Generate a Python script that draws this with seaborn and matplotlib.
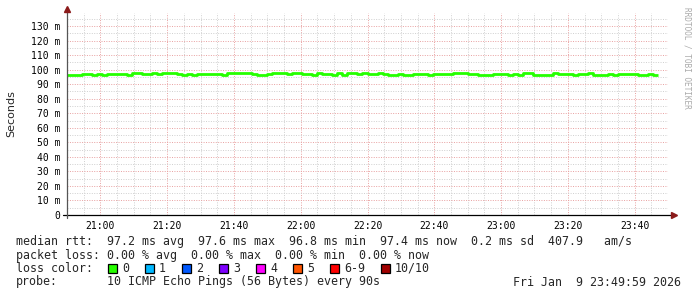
import numpy as np
import pandas as pd
import matplotlib
matplotlib.use("Agg")
import matplotlib.pyplot as plt
import matplotlib.dates as mdates
from matplotlib.patches import Rectangle
from matplotlib.lines import Line2D
import seaborn as sns

# ---------------- data ----------------
L, N, U = 96.6, 97.2, 97.8
rtt_ms = [
    L, L, L, N, N, L, N, L, N, N, N, N, L, 97.5, U, N, N, U, N, U,
    U, U, N, L, N, L, N, N, N, N, N, L, U, U, U, U, U, N, L, L,
    N, U, U, U, N, U, U, N, N, L, U, N, N, L, U, L, U, U, N, U,
    N, N, U, N, L, L, N, L, L, N, N, N, L, N, N, N, N, U, U, U,
    N, N, L, L, L, N, N, N, L, N, L, U, U, L, L, L, L, U, N, N,
    N, L, N, N, U, L, L, L, N, L, N, N, N, N, L, L, N, L,
]
start_time = "2026-01-09 20:50:00"
step = "90s"
y_ticks = [0, 10, 20, 30, 40, 50, 60, 70, 80, 90, 100, 110, 120, 130]
x_tick_labels = ["21:00", "21:20", "21:40", "22:00", "22:20", "22:40", "23:00", "23:20", "23:40"]

stats_line = "median rtt:  97.2 ms avg  97.6 ms max  96.8 ms min  97.4 ms now  0.2 ms sd  407.9   am/s"
loss_line = "packet loss: 0.00 % avg  0.00 % max  0.00 % min  0.00 % now"
loss_labels = ["0", "1", "2", "3", "4", "5", "6-9", "10/10"]
loss_colors = ["#26ff00", "#00b8ff", "#0059ff", "#7e00ff", "#ff00ff", "#ff5500", "#ff0000", "#a10000"]
probe_text = "10 ICMP Echo Pings (56 Bytes) every 90s"
date_text = "Fri Jan  9 23:49:59 2026"

# ---------------- figure ----------------
sns.set_style("white")
plt.rcParams["font.family"] = ["DejaVu Sans Mono", "DejaVu Sans"]

W, H = 697, 297
fig = plt.figure(figsize=(W / 100, H / 100), dpi=100)
fig.patch.set_facecolor("white")

def fx(px):
    return px / W

def fy(py):
    return 1 - py / H

ax_l, ax_r, ax_t, ax_b = 67, 668, 13, 215
ax = fig.add_axes([fx(ax_l), fy(ax_b), fx(ax_r - ax_l), (ax_b - ax_t) / H])
ax.set_facecolor("white")

times = pd.date_range(start_time, periods=len(rtt_ms) + 1, freq=step)
vals = list(rtt_ms) + [rtt_ms[-1]]
df = pd.DataFrame({"time": times, "rtt": vals})

sns.lineplot(data=df, x="time", y="rtt", ax=ax, color=loss_colors[0],
             linewidth=2.0, drawstyle="steps-post", zorder=5)
for ln in ax.lines:
    ln.set_solid_capstyle("butt")

t0 = pd.Timestamp(start_time)
ax.set_xlim(t0, t0 + pd.Timedelta(minutes=180))
ax.set_ylim(0, 139)

# grids
ax.set_xticks([t0 + pd.Timedelta(minutes=10 + 20 * i) for i in range(len(x_tick_labels))])
ax.set_xticklabels(x_tick_labels)
ax.set_yticks(y_ticks)
ax.set_yticklabels([("%d m" % v) if v else "0" for v in y_ticks])
ax.set_yticks(np.arange(5, 139, 10), minor=True)
ax.set_xticks([t0 + pd.Timedelta(minutes=5 * i) for i in range(1, 36)], minor=True)

ax.grid(which="minor", color="#cfcfcf", linestyle=(0, (1, 1.5)), linewidth=0.7)
ax.grid(which="major", color="#e8a0a0", linestyle=(0, (1, 1.5)), linewidth=0.7)
ax.set_axisbelow(True)
ax.tick_params(which="both", length=0)
ax.tick_params(axis="y", pad=5, labelsize=7, labelcolor="#000000")
ax.tick_params(axis="x", pad=4, labelsize=7, labelcolor="#000000")
ax.set_xlabel("")
ax.set_ylabel("")
for s in ax.spines.values():
    s.set_visible(False)

# axis lines and arrows
fig.add_artist(Line2D([fx(63), fx(671)], [fy(215), fy(215)], color="black", linewidth=0.9))
fig.add_artist(Line2D([fx(67), fx(67)], [fy(218), fy(11)], color="#555555", linewidth=0.9))
fig.add_artist(Line2D([fx(674)], [fy(215)], marker=">", markersize=4, color="#8b1a1a", linestyle="none"))
fig.add_artist(Line2D([fx(67)], [fy(9)], marker="^", markersize=4, color="#8b1a1a", linestyle="none"))

# y label and watermark
fig.text(fx(11), fy(114), "Seconds", rotation=90, ha="center", va="center",
         fontsize=8, family="DejaVu Sans")
fig.text(fx(687), fy(58), "RRDTOOL / TOBI OETIKER", rotation=-90, ha="center", va="center",
         fontsize=5.6, color="#aaaaaa")

# legend text
fs = 8.4
fig.text(fx(16), fy(241), stats_line, ha="left", va="center", fontsize=fs)
fig.text(fx(16), fy(255), loss_line, ha="left", va="center", fontsize=fs)
fig.text(fx(16), fy(268), "loss color:", ha="left", va="center", fontsize=fs)
x = 108
for lab, col in zip(loss_labels, loss_colors):
    fig.add_artist(Rectangle((fx(x), fy(272.5)), fx(8.5), 8.5 / H, facecolor=col,
                             edgecolor="black", linewidth=0.9, transform=fig.transFigure))
    fig.text(fx(x + 14), fy(268), lab, ha="left", va="center", fontsize=fs)
    x += 30 + 7 * len(lab)
fig.text(fx(16), fy(282), "probe:", ha="left", va="center", fontsize=fs)
fig.text(fx(107), fy(282), probe_text, ha="left", va="center", fontsize=fs)
fig.text(fx(681), fy(282), date_text, ha="right", va="center", fontsize=fs)

fig.savefig("out.png", dpi=100, facecolor="white")
